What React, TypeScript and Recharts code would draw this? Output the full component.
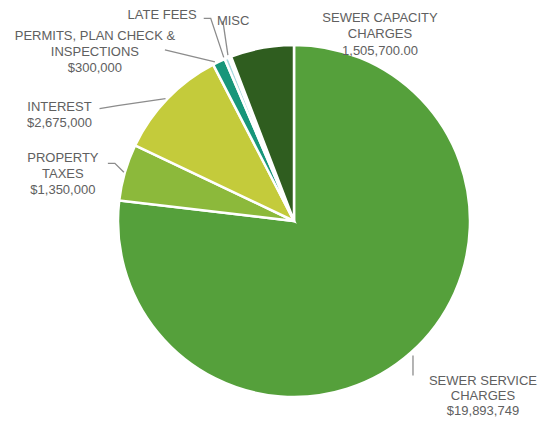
import { PieChart, Pie, Cell } from 'recharts';

const categories = [
    'SEWER SERVICE CHARGES',
    'PROPERTY TAXES',
    'INTEREST',
    'PERMITS, PLAN CHECK & INSPECTIONS',
    'LATE FEES',
    'MISC',
    'SEWER CAPACITY CHARGES',
];
const values = [19893749, 1350000, 2675000, 300000, 100000, 60000, 1505700];
const labelLines = [
    ['SEWER SERVICE', 'CHARGES', '$19,893,749'],
    ['PROPERTY', 'TAXES', '$1,350,000'],
    ['INTEREST', '$2,675,000'],
    ['PERMITS, PLAN CHECK &', 'INSPECTIONS', '$300,000'],
    ['LATE FEES'],
    ['MISC'],
    ['SEWER CAPACITY', 'CHARGES', '1,505,700.00'],
];

const COLORS = ['#55a03b', '#8cb93b', '#c4cb3b', '#17967a', '#a9d9e0', '#eef6f4', '#2f5d1f'];

// label placement relative to the slice's edge point: text x/anchor, baselines, leader polyline
const LAYOUT = [
    { dx: 72, anchor: 'middle', ys: [33, 48, 63], line: [[2, 3], [2, 23]] },
    { dx: -62, anchor: 'middle', ys: [-10, 6, 22], line: [[-17, -9], [-10, -9], [-1, 0]] },
    { dx: -108, anchor: 'middle', ys: [12, 28], line: [[-68, 10], [-50, 7], [-2, 0]] },
    { dx: -124, anchor: 'middle', ys: [-22, -6, 10], line: [[-54, -12], [-4, 0]] },
    { dx: -30, anchor: 'end', ys: [-39], line: [[-23, -40], [-16, -40], [-3, -1]] },
    { dx: -13, anchor: 'start', ys: [-32], line: [[-7, -36], [-2, -2]] },
    { dx: 118, anchor: 'middle', ys: [-26, -10, 7], line: [] },
];

const data = categories.map((name, i) => ({ name, value: values[i] }));

const RAD = Math.PI / 180;

function renderLabel(props: any) {
    const { cx, cy, midAngle, outerRadius, index } = props;
    const ex = cx + outerRadius * Math.cos(-midAngle * RAD);
    const ey = cy + outerRadius * Math.sin(-midAngle * RAD);
    const lay = LAYOUT[index];
    const pts = lay.line.map(([x, y]) => `${ex + x},${ey + y}`).join(' ');
    return (
        <g key={`lbl-${index}`}>
            {lay.line.length > 0 && (
                <polyline points={pts} fill="none" stroke="#8c8c8c" strokeWidth={1.3} />
            )}
            {labelLines[index].map((t, j) => (
                <text
                    key={j}
                    x={ex + lay.dx}
                    y={ey + lay.ys[j]}
                    textAnchor={lay.anchor}
                    fill="#606060"
                    fontSize={13}
                    fontFamily="'Liberation Sans', Arial, sans-serif"
                >
                    {t}
                </text>
            ))}
        </g>
    );
}

export default function App() {
    return (
        <div style={{ position: 'absolute', left: 0, top: 0, background: '#fff' }}>
            <PieChart width={548} height={421} margin={{ top: 0, right: 0, bottom: 0, left: 0 }}>
                <Pie
                    data={data}
                    dataKey="value"
                    nameKey="name"
                    cx={294}
                    cy={221}
                    outerRadius={176}
                    startAngle={90}
                    endAngle={-270}
                    stroke="#ffffff"
                    strokeWidth={2.5}
                    label={renderLabel}
                    labelLine={false}
                    isAnimationActive={false}
                >
                    {data.map((d, i) => (
                        <Cell key={d.name} fill={COLORS[i]} />
                    ))}
                </Pie>
            </PieChart>
        </div>
    );
}
